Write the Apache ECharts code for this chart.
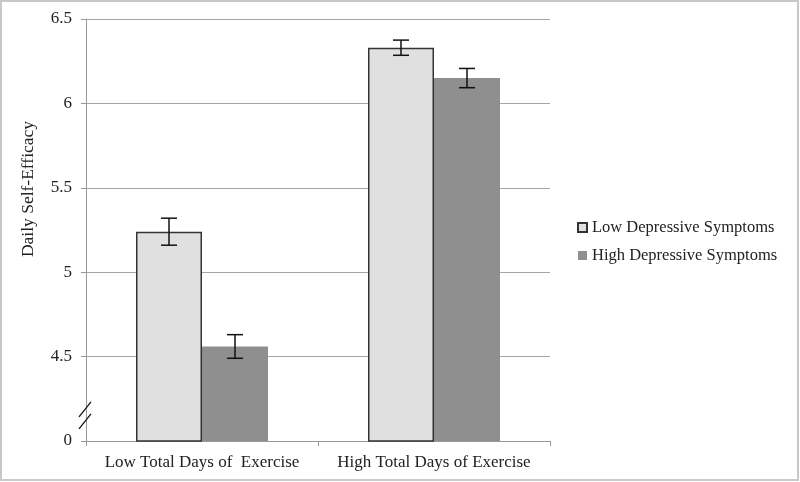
<!DOCTYPE html>
<html><head><meta charset="utf-8">
<script src="https://cdn.jsdelivr.net/npm/echarts@6/dist/echarts.min.js"></script>
<style>html,body{margin:0;padding:0;background:#fff}#c{width:800px;height:482px}</style>
</head><body><div id="c"></div>
<script>
var categories = ['Low Total Days of  Exercise', 'High Total Days of Exercise'];
var seriesNames = ['Low Depressive Symptoms', 'High Depressive Symptoms'];
var lowDepValues = [5.24, 6.33];
var highDepValues = [4.56, 6.15];
var lowDepErr = [0.08, 0.045];
var highDepErr = [0.07, 0.057];
var tickValues = [4, 4.5, 5, 5.5, 6, 6.5];
var tickLabels = ['0', '4.5', '5', '5.5', '6', '6.5'];
var yTitle = 'Daily Self-Efficacy';

var FONT = '"Liberation Serif", "Times New Roman", serif';
var BAR_W = 66;
var chart = echarts.init(document.getElementById('c'));

function errData(vals, errs) {
  return vals.map(function (v, i) { return [i, v - errs[i], v + errs[i]]; });
}
function errSeries(vals, errs, offset) {
  return {
    type: 'custom',
    silent: true,
    z: 10,
    data: errData(vals, errs),
    encode: { x: 0, y: [1, 2] },
    renderItem: function (params, api) {
      var lo = api.coord([api.value(0), api.value(1)]);
      var hi = api.coord([api.value(0), api.value(2)]);
      var x = lo[0] + offset;
      var cap = 8;
      var st = { stroke: '#111', lineWidth: 1.5 };
      return { type: 'group', children: [
        { type: 'line', shape: { x1: x, y1: lo[1], x2: x, y2: hi[1] }, style: st },
        { type: 'line', shape: { x1: x - cap, y1: lo[1], x2: x + cap, y2: lo[1] }, style: st },
        { type: 'line', shape: { x1: x - cap, y1: hi[1], x2: x + cap, y2: hi[1] }, style: st }
      ]};
    }
  };
}

chart.setOption({
  animation: false,
  backgroundColor: '#fff',
  grid: { left: 86, right: 250, top: 19, bottom: 41 },
  legend: {
    orient: 'vertical', left: 572, top: 214, itemWidth: 9, itemHeight: 9, itemGap: 11,
    icon: 'rect',
    data: seriesNames,
    textStyle: { fontFamily: FONT, fontSize: 16.5, color: '#222' }
  },
  xAxis: {
    type: 'category', data: categories,
    axisLine: { lineStyle: { color: '#999', width: 1 } },
    axisTick: { show: true, length: 5, lineStyle: { color: '#999' } },
    axisLabel: { fontFamily: FONT, fontSize: 17, color: '#222', margin: 13, interval: 0, hideOverlap: false }
  },
  yAxis: {
    type: 'value', min: 4, max: 6.5, interval: 0.5,
    axisLine: { show: true, lineStyle: { color: '#999', width: 1 } },
    axisTick: { show: true, length: 5, lineStyle: { color: '#999' } },
    splitLine: { lineStyle: { color: '#a6a6a6', width: 1 } },
    axisLabel: {
      fontFamily: FONT, fontSize: 17, color: '#222', margin: 14,
      formatter: function (v) {
        var i = tickValues.indexOf(v);
        return i >= 0 ? tickLabels[i] : '';
      }
    }
  },
  series: [
    { name: seriesNames[0], type: 'bar', data: lowDepValues, barWidth: BAR_W, barGap: '0%',
      itemStyle: { color: '#e0e0e0', borderColor: '#333', borderWidth: 1.5 } },
    { name: seriesNames[1], type: 'bar', data: highDepValues, barWidth: BAR_W, barGap: '0%',
      itemStyle: { color: '#8f8f8f' } },
    errSeries(lowDepValues, lowDepErr, -BAR_W / 2),
    errSeries(highDepValues, highDepErr, BAR_W / 2)
  ]
});

// frame, y title and axis-break marks
var p = chart.convertToPixel({ gridIndex: 0 }, [0, 4.25]);
var x0 = chart.getModel().getComponent('grid').coordinateSystem.getRect().x;
var yb = p[1];
chart.setOption({
  graphic: [
    { type: 'rect', shape: { x: 1, y: 1, width: 797, height: 479 }, style: { fill: null, stroke: '#c8c8c8', lineWidth: 2 }, silent: true },
    { type: 'text', x: 28, y: 189, rotation: Math.PI / 2,
      style: { text: yTitle, font: '17.5px ' + FONT, fill: '#222', align: 'center', verticalAlign: 'middle' } },
    { type: 'line', shape: { x1: x0 - 7, y1: yb + 18, x2: x0 + 5, y2: yb + 3 }, style: { stroke: '#111', lineWidth: 1.3 }, z: 20 },
    { type: 'line', shape: { x1: x0 - 7, y1: yb + 30, x2: x0 + 5, y2: yb + 15 }, style: { stroke: '#111', lineWidth: 1.3 }, z: 20 }
  ]
});
</script></body></html>
